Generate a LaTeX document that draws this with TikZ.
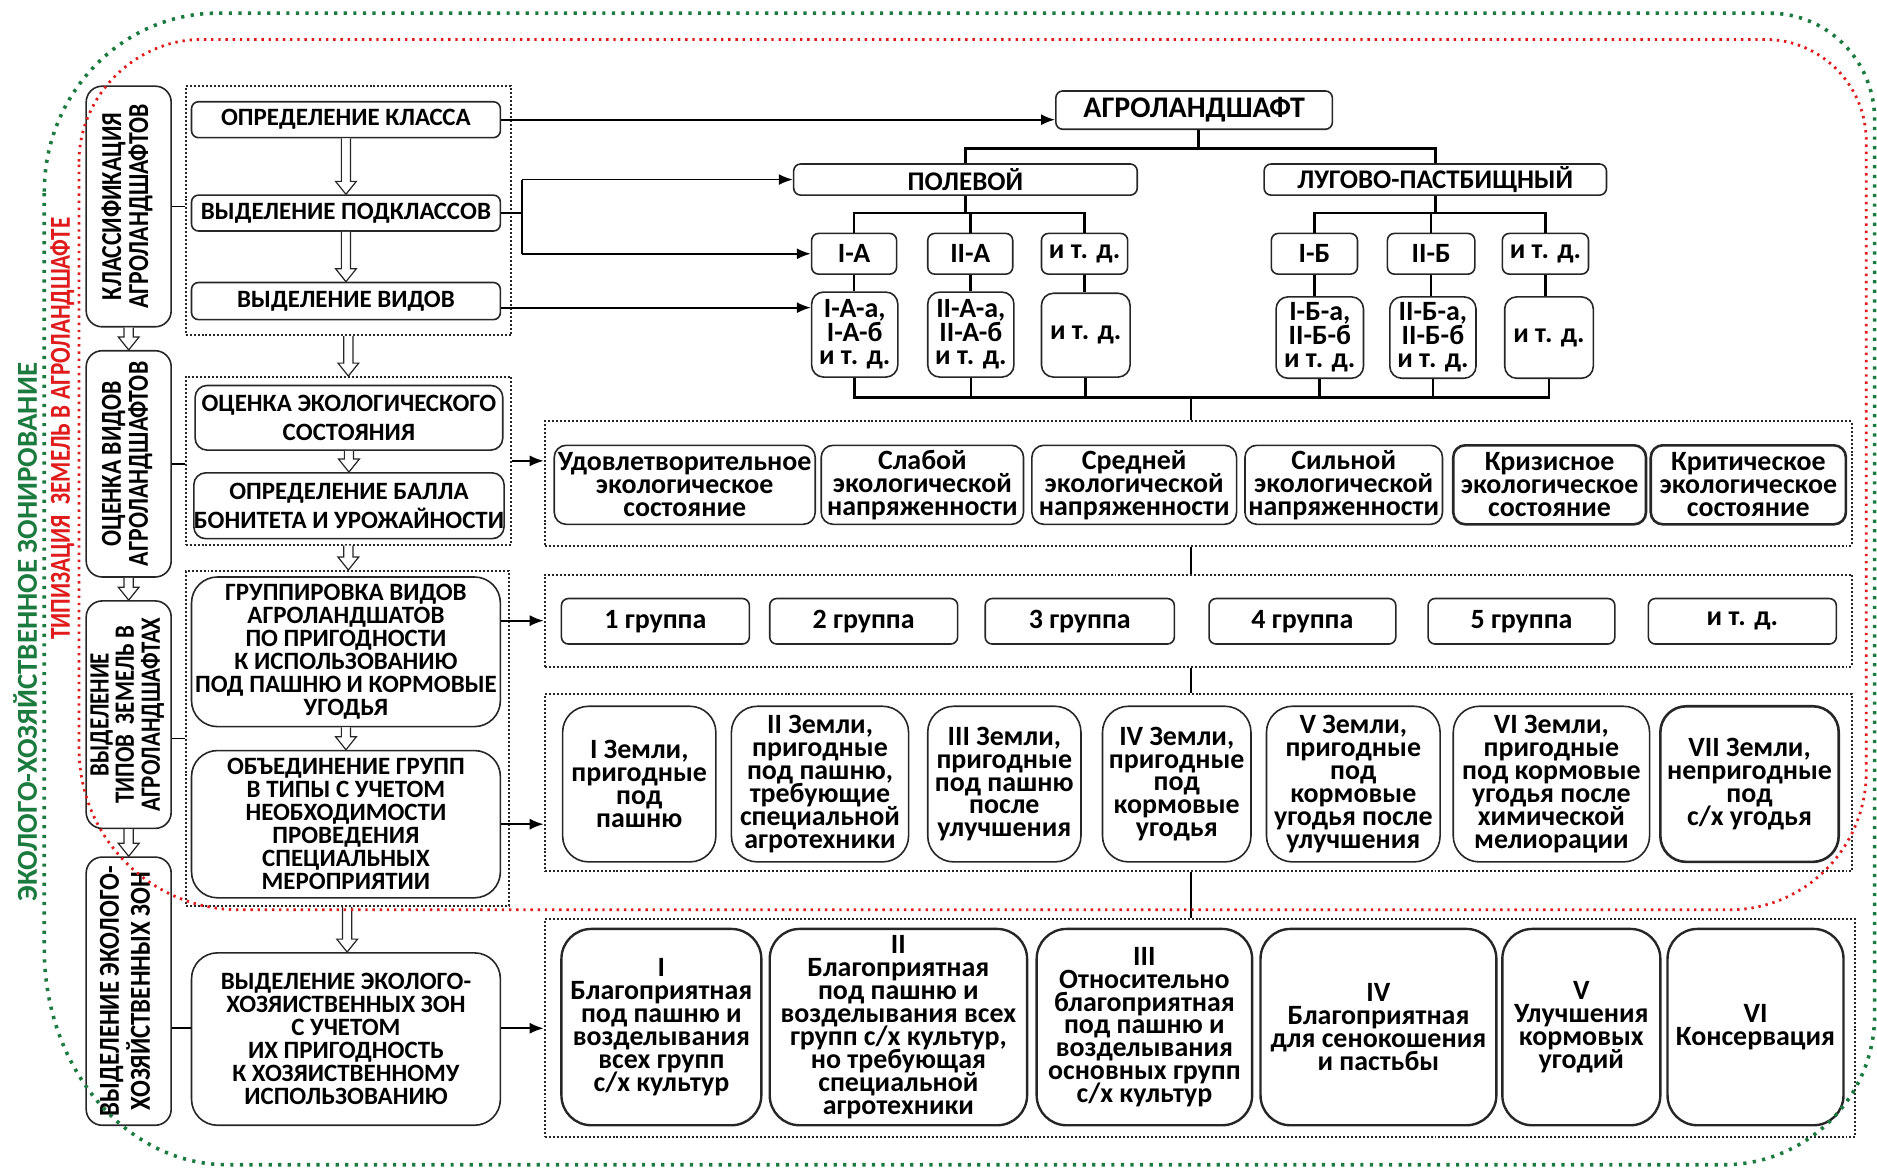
\documentclass[tikz,border=0pt]{standalone}
\usepackage{fontspec}
\setmainfont{Carlito}
\usepackage{graphicx}
\usetikzlibrary{arrows.meta,fit,calc}
\definecolor{gz}{HTML}{1B7A3E}
\definecolor{rz}{HTML}{E01B1B}
\definecolor{bd}{HTML}{262626}
\newcommand{\bx}[7][]{\node[#1,minimum width={(#5-#3)*0.6pt},minimum height={(#6-#4)*0.6pt}] (#2) at ({(#3+#5)/2},{(#4+#6)/2}) {#7};}
\newcommand{\cbx}[5]{\node[cont,fit={(#2,#3) (#4,#5)}] (#1) {};}
\newcommand{\hollowarrow}[2]{\draw[hol] let \p1=(#1), \p2=(#2) in (\x1-2.3pt,\y1) -- (\x1-2.3pt,\y2+6.5pt) -- (\x1-5.2pt,\y2+6.5pt) -- (\x1,\y2) -- (\x1+5.2pt,\y2+6.5pt) -- (\x1+2.3pt,\y2+6.5pt) -- (\x1+2.3pt,\y1);}
\newcommand{\tightls}{\lineskiplimit=-100pt\relax}
\newcommand{\vstack}[1]{\begin{tabular}{@{}c@{}}#1\end{tabular}}
\tikzset{
  bxs/.style={draw=bd, line width=0.8pt, align=center, inner sep=0pt, text=black},
  sbox/.style={bxs, rounded corners=3.5pt},
  mbox/.style={bxs, rounded corners=6pt},
  lbox/.style={bxs, rounded corners=8pt},
  bigbox/.style={bxs, rounded corners=13pt},
  gbox/.style={bxs, rounded corners=15pt, line width=1.2pt},
  thick/.style={line width=1.3pt},
  fmid/.style={font=\bfseries\fontsize{12.5}{11.5}\selectfont\tightls},
  fmidb/.style={font=\bfseries\fontsize{12.5}{14.4}\selectfont\tightls},
  ftree/.style={font=\bfseries\fontsize{14}{11.8}\selectfont\tightls},
  ftop/.style={font=\bfseries\fontsize{13.5}{14}\selectfont},
  fagro/.style={font=\bfseries\fontsize{15}{16}\selectfont},
  frow/.style={font=\bfseries\fontsize{14}{11.5}\selectfont\tightls},
  fvert/.style={rotate=90, inner sep=0pt, font=\bfseries\fontsize{14.5}{12.6}\selectfont},
  cont/.style={draw=bd, line width=1pt, dash pattern=on 1pt off 1pt, inner sep=0pt},
  arr/.style={draw=black, line width=0.9pt, -{Latex[length=7pt,width=5.5pt]}},
  ln/.style={draw=black, line width=0.9pt},
  tl/.style={draw=black, line width=1.3pt},
  hol/.style={draw=bd, line width=0.6pt, fill=white},
  gline/.style={draw=gz, line width=1.8pt, dash pattern=on 1.6pt off 3.2pt},
  rline/.style={draw=rz, line width=1.4pt, dash pattern=on 1.2pt off 2.4pt}
}
\begin{document}
\begin{tikzpicture}[x=0.6pt,y=-0.6pt]
\useasboundingbox (0,0) rectangle (1568,978);
% containers
\cbx{A}{155}{72}{427}{280}
\cbx{B}{155}{315}{427}{455}
\cbx{C}{155}{477}{425}{757}
\cbx{D}{455}{352}{1547}{456}
\cbx{E}{455}{480}{1547}{557}
\cbx{F}{455}{580}{1547}{728}
\cbx{G}{455}{768}{1550}{950}
% left column
\bx[lbox]{L1}{72}{72}{143}{273}{}
\bx[lbox]{L2}{72}{293}{143}{482}{}
\bx[lbox]{L3}{72}{502}{143}{692}{}
\bx[lbox]{L4}{72}{716}{143}{940}{}
\node[fvert] (t1) at (L1) {\scalebox{0.82}[1]{\vstack{КЛАССИФИКАЦИЯ\\АГРОЛАНДШАФТОВ}}};
\node[fvert] (t2) at (L2) {\scalebox{0.82}[1]{\vstack{ОЦЕНКА ВИДОВ\\АГРОЛАНДШАФТОВ}}};
\node[fvert] (t3) at (L3) {\scalebox{0.82}[1]{\fontsize{14}{11.7}\selectfont\vstack{ВЫДЕЛЕНИЕ\\ТИПОВ\ \ ЗЕМЕЛЬ В\\АГРОЛАНДШАФТАХ}}};
\node[fvert] (t4) at (L4) {\scalebox{0.86}[1]{\vstack{ВЫДЕЛЕНИЕ ЭКОЛОГО-\\ХОЗЯЙСТВЕННЫХ ЗОН}}};
% middle column
\bx[sbox,fmid]{klass}{160}{85}{418}{115}{ОПРЕДЕЛЕНИЕ КЛАССА}
\bx[sbox,fmid]{podkl}{160}{163}{418}{193}{ВЫДЕЛЕНИЕ ПОДКЛАССОВ}
\bx[sbox,fmid]{vid}{160}{236}{418}{267}{ВЫДЕЛЕНИЕ ВИДОВ}
\bx[mbox,fmidb]{eco}{163}{322}{420}{376}{ОЦЕНКА ЭКОЛОГИЧЕСКОГО\\СОСТОЯНИЯ}
\bx[mbox,fmidb]{ball}{163}{395}{420}{450}{ОПРЕДЕЛЕНИЕ БАЛЛА\\БОНИТЕТА И УРОЖАЙНОСТИ}
\bx[bigbox,fmid]{grp}{160}{482}{418}{607}{ГРУППИРОВКА ВИДОВ\\АГРОЛАНДШАТОВ\\ПО ПРИГОДНОСТИ\\К ИСПОЛЬЗОВАНИЮ\\ПОД ПАШНЮ И КОРМОВЫЕ\\УГОДЬЯ}
\bx[bigbox,fmid]{obj}{160}{627}{418}{750}{ОБЪЕДИНЕНИЕ ГРУПП\\В ТИПЫ С УЧЕТОМ\\НЕОБХОДИМОСТИ\\ПРОВЕДЕНИЯ\\СПЕЦИАЛЬНЫХ\\МЕРОПРИЯТИИ}
\bx[bigbox,fmid]{zon}{160}{796}{418}{940}{ВЫДЕЛЕНИЕ ЭКОЛОГО-\\ХОЗЯИСТВЕННЫХ ЗОН\\С УЧЕТОМ\\ИХ ПРИГОДНОСТЬ\\К ХОЗЯИСТВЕННОМУ\\ИСПОЛЬЗОВАНИЮ}
% tree
\bx[sbox,fagro]{agro}{882}{76}{1113}{108}{АГРОЛАНДШАФТ}
\bx[sbox,ftop]{pol}{663}{137}{950}{163}{ПОЛЕВОЙ}
\bx[sbox,ftop]{lug}{1056}{137}{1342}{163}{ЛУГОВО-ПАСТБИЩНЫЙ}
\bx[sbox,ftree]{ia}{678}{195}{749}{229}{I-А}
\bx[sbox,ftree]{iia}{775}{195}{846}{229}{II-А}
\bx[sbox,ftree]{ea}{870}{195}{942}{229}{и т. д.}
\bx[sbox,ftree]{ib}{1062}{195}{1134}{229}{I-Б}
\bx[sbox,ftree]{iib}{1159}{195}{1232}{229}{II-Б}
\bx[sbox,ftree]{eb}{1255}{195}{1327}{229}{и т. д.}
\bx[mbox,ftree]{iaa}{678}{244}{750}{315}{I-А-а,\\I-А-б\\и т. д.}
\bx[mbox,ftree]{iiaa}{775}{244}{847}{315}{II-А-а,\\II-А-б\\и т. д.}
\bx[mbox,ftree]{eaa}{870}{245}{944}{315}{и т. д.}
\bx[mbox,ftree]{ibb}{1066}{248}{1139}{316}{I-Б-а,\\II-Б-б\\и т. д.}
\bx[mbox,ftree]{iibb}{1161}{248}{1233}{316}{II-Б-а,\\II-Б-б\\и т. д.}
\bx[mbox,ftree]{ebb}{1257}{248}{1331}{316}{и т. д.}
% row D
\bx[mbox,frow]{d1}{463}{372}{681}{438}{Удовлетворительное\\экологическое\\состояние}
\bx[mbox,frow]{d2}{686}{372}{855}{438}{Слабой\\экологической\\напряженности}
\bx[mbox,frow]{d3}{862}{372}{1033}{438}{Средней\\экологической\\напряженности}
\bx[mbox,frow]{d4}{1040}{372}{1205}{438}{Сильной\\экологической\\напряженности}
\bx[mbox,frow,thick]{d5}{1214}{372}{1375}{438}{Кризисное\\экологическое\\состояние}
\bx[mbox,frow,thick]{d6}{1379}{372}{1542}{438}{Критическое\\экологическое\\состояние}
% row E
\bx[sbox,frow]{e1}{469}{500}{626}{538}{1 группа}
\bx[sbox,frow]{e2}{643}{500}{800}{538}{2 группа}
\bx[sbox,frow]{e3}{823}{500}{981}{538}{3 группа}
\bx[sbox,frow]{e4}{1010}{500}{1166}{538}{4 группа}
\bx[sbox,frow]{e5}{1193}{500}{1349}{538}{5 группа}
\bx[sbox,frow]{e6}{1377}{500}{1534}{538}{и т. д.}
% row F
\bx[bigbox,frow]{f1}{470}{590}{598}{720}{I Земли,\\пригодные\\под\\пашню}
\bx[bigbox,frow]{f2}{611}{590}{759}{720}{II Земли,\\пригодные\\под пашню,\\требующие\\специальной\\агротехники}
\bx[bigbox,frow]{f3}{775}{590}{903}{720}{III Земли,\\пригодные\\под пашню\\после\\улучшения}
\bx[bigbox,frow]{f4}{921}{590}{1045}{720}{IV Земли,\\пригодные\\под\\кормовые\\угодья}
\bx[bigbox,frow]{f5}{1058}{590}{1203}{720}{V Земли,\\пригодные\\под\\кормовые\\угодья после\\улучшения}
\bx[bigbox,frow]{f6}{1214}{590}{1378}{720}{VI Земли,\\пригодные\\под кормовые\\угодья после\\химической\\мелиорации}
\bx[bigbox,frow,thick]{f7}{1387}{590}{1536}{720}{VII Земли,\\непригодные\\под\\с/х угодья}
% row G
\bx[gbox,frow]{g1}{469}{776}{636}{940}{I\\Благоприятная\\под пашню и\\возделывания\\всех групп\\с/х культур}
\bx[gbox,frow]{g2}{643}{776}{858}{940}{II\\Благоприятная\\под пашню и\\возделывания всех\\групп с/х культур,\\но требующая\\специальной\\агротехники}
\bx[gbox,frow]{g3}{866}{776}{1046}{940}{III\\Относительно\\благоприятная\\под пашню и\\возделывания\\основных групп\\с/х культур}
\bx[gbox,frow]{g4}{1053}{776}{1250}{940}{IV\\Благоприятная\\для сенокошения\\и пастьбы}
\bx[gbox,frow]{g5}{1255}{776}{1387}{940}{V\\Улучшения\\кормовых\\угодий}
\bx[gbox,frow]{g6}{1393}{776}{1540}{940}{VI\\Консервация}
% tree connectors
\coordinate (b1) at (1001,124);
\draw[tl] (agro.south -| b1) -- (b1);
\draw[tl] (pol.north) |- (b1) -| (lug.north);
\coordinate (b2) at (806,178);
\draw[tl] (pol.south) -- (pol.south |- b2);
\draw[tl] (ia.north) |- (b2) -| (ea.north);
\draw[tl] (iia.north) -- (iia.north |- b2);
\coordinate (b3) at (1199,178);
\draw[tl] (lug.south) -- (lug.south |- b3);
\draw[tl] (ib.north) |- (b3) -| (eb.north);
\draw[tl] (iib.north) -- (iib.north |- b3);
\foreach \u/\v in {ia/iaa,iia/iiaa,ea/eaa,ib/ibb,iib/iibb,eb/ebb}
  \draw[tl] (\u.south) -- (\u.south |- \v.north);
\coordinate (b4) at (995,332);
\draw[tl] (iaa.south) |- (b4) -| (ebb.south);
\foreach \u in {iiaa,eaa,ibb,iibb}
  \draw[tl] (\u.south) -- (\u.south |- b4);
\draw[tl] (b4) -- (b4 |- D.north);
\draw[tl] (D.south -| b4) -- (E.north -| b4);
\draw[tl] (E.south -| b4) -- (F.north -| b4);
\draw[tl] (F.south -| b4) -- (G.north -| b4);
% arrows
\draw[arr] (klass.east) -- (klass.east -| agro.west);
\coordinate (j1) at (436,178);
\draw[ln] (podkl.east) -- (j1);
\draw[ln] (j1 |- pol.west) -- (j1 |- ia.west);
\draw[arr] (j1 |- pol.west) -- (pol.west);
\draw[arr] (j1 |- ia.west) -- (ia.west);
\draw[arr] ([yshift=-3.3pt]vid.east) -- ([yshift=-3.3pt]vid.east -| iaa.west);
\draw[arr] (B.east) -- (B.east -| D.west);
\draw[arr] (grp.east |- E.west) -- (E.west);
\draw[arr] (obj.east) -- (obj.east -| F.west);
\draw[arr] (zon.east |- G.west) -- (G.west);
\draw[ln] (L1.east) -- (L1.east -| A.west);
\draw[ln] (L2.east) -- (L2.east -| B.west);
\draw[ln] (C.west -| L3.east) -- (C.west);
\draw[ln] (G.west -| L4.east) -- (G.west -| zon.west);
% hollow arrows
\hollowarrow{klass.south}{podkl.north}
\hollowarrow{podkl.south}{vid.north}
\hollowarrow{A.south}{B.north}
\hollowarrow{eco.south}{ball.north}
\hollowarrow{B.south}{C.north}
\hollowarrow{grp.south}{obj.north}
\hollowarrow{C.south}{zon.north}
\hollowarrow{L1.south}{L2.north}
\hollowarrow{L2.south}{L3.north}
\hollowarrow{L3.south}{L4.north}
% side titles
\node[rotate=90, text=gz, inner sep=0pt, font=\bfseries\fontsize{14.5}{15}\selectfont] (gt) at (21,528) {ЭКОЛОГО-ХОЗЯЙСТВЕННОЕ ЗОНИРОВАНИЕ};
\node[rotate=90, text=rz, inner sep=0pt, font=\bfseries\fontsize{14.5}{15}\selectfont] (rt) at (52,358) {\scalebox{0.8}[1]{ТИПИЗАЦИЯ\ \ ЗЕМЕЛЬ В АГРОЛАНДШАФТЕ}};
% dotted outlines
\draw[gline] (37,160) .. controls (37,78) and (102,11) .. (182,11) -- (1478,11) .. controls (1527,11) and (1566,51) .. (1566,100) -- (1566,848) .. controls (1566,917) and (1509,973) .. (1440,973) -- (190,973) .. controls (105,973) and (37,892) .. (37,793) -- cycle;
\draw[rline] (66,135) .. controls (66,80) and (113,33) .. (168,33) -- (1475,33) .. controls (1521,33) and (1559,71) .. (1559,118) -- (1559,645) .. controls (1559,708) and (1508,760) .. (1445,760) -- (200,760) .. controls (126,760) and (66,700) .. (66,625) -- cycle;
\end{tikzpicture}
\end{document}
